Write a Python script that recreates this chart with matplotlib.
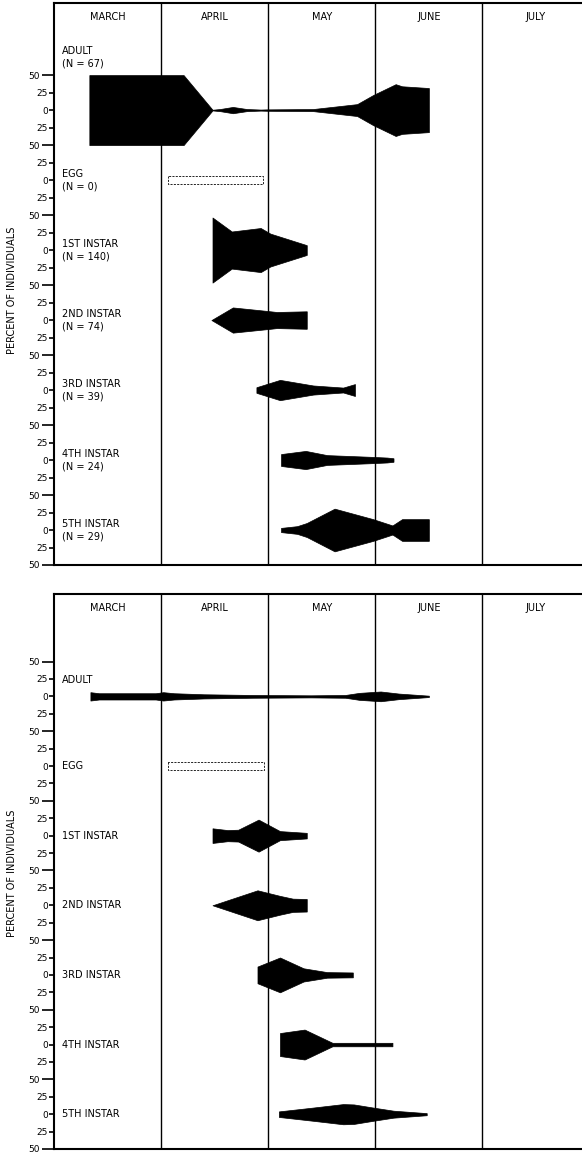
import matplotlib
matplotlib.use("Agg")
import matplotlib.pyplot as plt
import numpy as np

# ---------------- data ----------------
months = ["MARCH", "APRIL", "MAY", "JUNE", "JULY"]

top_labels = ["ADULT\n(N = 67)", "EGG\n(N = 0)", "1ST INSTAR\n(N = 140)",
              "2ND INSTAR\n(N = 74)", "3RD INSTAR\n(N = 39)",
              "4TH INSTAR\n(N = 24)", "5TH INSTAR\n(N = 29)"]
bot_labels = ["ADULT", "EGG", "1ST INSTAR", "2ND INSTAR", "3RD INSTAR",
              "4TH INSTAR", "5TH INSTAR"]

# time in months since 1 March; percent of individuals (full kite width)
top_adult_t = [0.33, 1.21, 1.48, 1.55, 1.67, 1.80, 1.93, 1.99, 2.42, 2.83, 2.98, 3.19, 3.25, 3.50]
top_adult_pct = [100, 100, 1, 3, 9, 3, 1.5, 2, 3, 17, 43, 74, 68, 63]
top_egg_t = [1.06, 1.95]
top_egg_pct = [11, 11]
top_inst1_t = [1.48, 1.66, 1.93, 2.02, 2.36]
top_inst1_pct = [93, 53, 63, 47, 14]
top_inst2_t = [1.47, 1.67, 1.99, 2.08, 2.36]
top_inst2_pct = [0, 36, 26, 23, 25]
top_inst3_t = [1.89, 2.11, 2.42, 2.70, 2.81]
top_inst3_pct = [8, 29, 13, 7, 17]
top_inst4_t = [2.12, 2.35, 2.55, 2.97, 3.11, 3.17]
top_inst4_pct = [17, 26, 14, 9, 7, 5]
top_inst5_t = [2.12, 2.27, 2.36, 2.62, 2.98, 3.16, 3.25, 3.50]
top_inst5_pct = [6, 11, 20, 61, 31, 13, 31, 31]

bot_adult_t = [0.34, 0.42, 0.95, 1.02, 1.12, 1.40, 1.85, 2.40, 2.72, 2.85, 3.05, 3.22, 3.50]
bot_adult_pct = [12, 9, 9, 12, 9, 6, 4, 3, 4, 10, 14, 8, 2]
bot_egg_t = [1.06, 1.96]
bot_egg_pct = [11, 11]
bot_inst1_t = [1.48, 1.62, 1.72, 1.91, 2.11, 2.36]
bot_inst1_pct = [21, 16, 17, 46, 13, 8]
bot_inst2_t = [1.48, 1.90, 2.11, 2.23, 2.36]
bot_inst2_pct = [0, 43, 27, 19, 18]
bot_inst3_t = [1.90, 2.11, 2.33, 2.55, 2.79]
bot_inst3_pct = [24, 50, 19, 8, 7]
bot_inst4_t = [2.11, 2.34, 2.60, 3.16]
bot_inst4_pct = [33, 43, 5, 5]
bot_inst5_t = [2.10, 2.42, 2.70, 2.80, 2.98, 3.17, 3.48]
bot_inst5_pct = [8, 19, 29, 28, 19, 10, 3]

top_series = [(top_adult_t, top_adult_pct), (top_egg_t, top_egg_pct),
              (top_inst1_t, top_inst1_pct), (top_inst2_t, top_inst2_pct),
              (top_inst3_t, top_inst3_pct), (top_inst4_t, top_inst4_pct),
              (top_inst5_t, top_inst5_pct)]
bot_series = [(bot_adult_t, bot_adult_pct), (bot_egg_t, bot_egg_pct),
              (bot_inst1_t, bot_inst1_pct), (bot_inst2_t, bot_inst2_pct),
              (bot_inst3_t, bot_inst3_pct), (bot_inst4_t, bot_inst4_pct),
              (bot_inst5_t, bot_inst5_pct)]
egg_index = 1

# ---------------- figure ----------------
W, H = 582, 1155
fig = plt.figure(figsize=(W / 100, H / 100), dpi=100)
plt.rcParams['font.family'] = ['DejaVu Sans']


def make_panel(top_px, bot_px, ytop, series, labels, label_offsets, ylab_center_px):
    left = 54 / W
    ax = fig.add_axes([left, 1 - bot_px / H, 1 - left, (bot_px - top_px) / H])
    ax.set_xlim(0, 4.93)
    ax.set_ylim(-650, ytop)
    ax.spines['right'].set_visible(False)
    for s in ['left', 'top', 'bottom']:
        ax.spines[s].set_linewidth(1.5)
    ax.set_xticks([])
    n = len(series)
    centers = [-100 * k for k in range(n)]
    major = [c + 50 for c in centers] + [centers[-1] - 50]
    minor = []
    for c in centers:
        minor += [c + 25, c, c - 25]
    ax.set_yticks(major)
    ax.set_yticklabels(["50"] * len(major))
    ax.set_yticks(minor, minor=True)
    ax.set_yticklabels(["25", "0", "25"] * n, minor=True)
    ax.tick_params(axis='y', which='major', direction='out', length=9, width=1.2,
                   pad=1, labelsize=6.5)
    ax.tick_params(axis='y', which='minor', direction='out', length=3.5, width=1.2,
                   pad=1, labelsize=6.5)
    for m in range(1, 5):
        ax.axvline(m, color='black', lw=1.0)
    for i, m in enumerate(months):
        ax.text(i + 0.5, 1 - 14 / (bot_px - top_px), m, transform=ax.get_xaxis_transform(),
                ha='center', va='center', fontsize=7)
    for k, (t, p) in enumerate(series):
        c = centers[k]
        t = np.asarray(t, float)
        p = np.asarray(p, float)
        if k == egg_index:
            ax.fill_between(t, c - p / 2, c + p / 2, facecolor='none', edgecolor='black',
                            linestyle=(0, (2.5, 1.5)), lw=0.6)
        else:
            ax.fill_between(t, c - p / 2, c + p / 2, facecolor='black', edgecolor='black',
                            lw=0.5)
        ax.text(0.075, c + label_offsets[k], labels[k], ha='left', va='center',
                fontsize=7, linespacing=1.3)
    fig.text(12 / W, 1 - ylab_center_px / H, "PERCENT OF INDIVIDUALS", rotation=90,
             ha='center', va='center', fontsize=7)
    return ax


make_panel(3, 565, 153, top_series, top_labels, [75, 0, 0, 0, 0, 0, 0], 290)
make_panel(594, 1149, 147, bot_series, bot_labels, [24, 0, 0, 0, 0, 0, 0], 873)

fig.savefig("out.png", dpi=100)
